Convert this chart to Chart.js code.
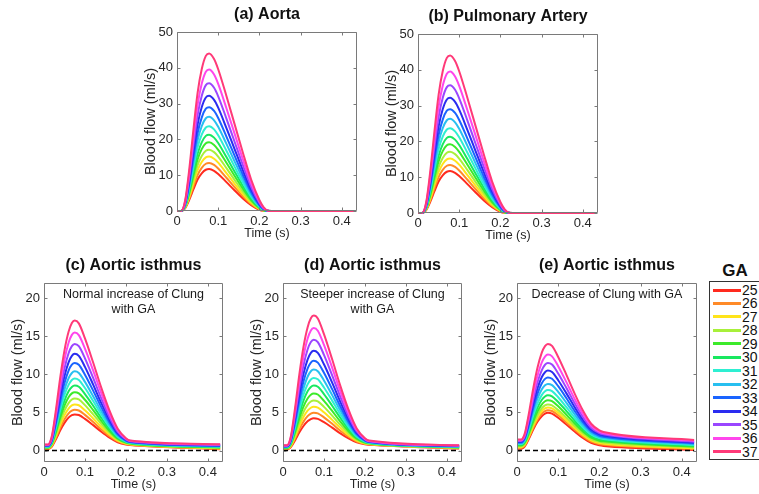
<!DOCTYPE html>
<html>
<head>
<meta charset="utf-8">
<script src="https://cdn.jsdelivr.net/npm/chart.js@4.4.1/dist/chart.umd.min.js"></script>
<style>
  html, body { margin: 0; padding: 0; background: #fff; }
  body { width: 759px; height: 494px; position: relative; overflow: hidden;
         font-family: "Liberation Sans", Arial, Helvetica, sans-serif; color: #262626; }
  canvas { position: absolute; }
  #gaTitle { position: absolute; left: 712px; top: 261px; width: 46px; line-height: 20px;
             text-align: center; font-weight: bold; font-size: 17px; color: #111; }
  #legend { position: absolute; left: 709px; top: 281px; width: 70px; height: 179px;
            border: 1px solid #333; box-sizing: border-box; }
  #legend .row { position: absolute; left: 0; height: 14px; width: 60px; }
  #legend .swatch { position: absolute; left: 3px; top: 5.5px; width: 28px; height: 3px; }
  #legend .lab { position: absolute; left: 32px; top: 0; line-height: 14px; font-size: 14px; color: #111; }
</style>
</head>
<body>
<div id="gaTitle">GA</div>
<div id="legend"></div>
<script>
// gestational age groups and their trace colours
const gaLabels = ['25', '26', '27', '28', '29', '30', '31', '32', '33', '34', '35', '36', '37'];
const gaColors = ['#ff2a1e', '#ff8a28', '#ffe41a', '#a8f03a', '#3cea2a', '#18e860', '#2eefd2',
                  '#28bff0', '#1a64ff', '#2a2cf0', '#9a46ff', '#ff46ec', '#ff3a78'];

const timeTicks = [0, 0.1, 0.2, 0.3, 0.4];
const aortaTicks = [0, 10, 20, 30, 40, 50];
const isthmusTicks = [0, 5, 10, 15, 20];

// sample times (s)
const aortaTime = [0, 0.01, 0.02, 0.03, 0.04, 0.05, 0.06, 0.07, 0.078, 0.09, 0.10, 0.12, 0.14,
                   0.16, 0.18, 0.20, 0.21, 0.22, 0.23, 0.30, 0.43];
const isthmusTime = [0, 0.01, 0.015, 0.02, 0.03, 0.04, 0.05, 0.06, 0.068, 0.075, 0.085, 0.10,
                     0.12, 0.14, 0.16, 0.18, 0.20, 0.21, 0.43];

// aortic flow (ml/s), one row per GA 25..37
const aortaFlow = [
  [0, 0, 0.82, 3.16, 6.08, 8.78, 10.53, 11.52, 11.7, 11.23, 10.35, 8.07, 5.73, 3.51, 1.64, 0.35, 0.06, 0, 0, 0, 0],
  [0, 0, 0.94, 3.62, 6.97, 10.05, 12.06, 13.2, 13.4, 12.87, 11.87, 9.29, 6.63, 4.10, 1.94, 0.44, 0.09, 0, 0, 0, 0],
  [0, 0, 1.06, 4.10, 7.90, 11.4, 13.68, 14.97, 15.2, 14.60, 13.49, 10.59, 7.60, 4.74, 2.28, 0.56, 0.13, 0.01, 0, 0, 0],
  [0, 0, 1.20, 4.62, 8.89, 12.83, 15.39, 16.84, 17.1, 16.44, 15.20, 11.97, 8.64, 5.43, 2.65, 0.68, 0.17, 0.01, 0, 0, 0],
  [0, 0, 1.34, 5.18, 9.98, 14.4, 17.28, 18.91, 19.2, 18.46, 17.09, 13.50, 9.79, 6.21, 3.07, 0.83, 0.22, 0.02, 0, 0, 0],
  [0, 0, 1.49, 5.75, 11.08, 15.98, 19.17, 20.98, 21.3, 20.49, 18.98, 15.05, 10.97, 7.01, 3.51, 0.99, 0.28, 0.03, 0, 0, 0],
  [0, 0, 1.66, 6.40, 12.32, 17.78, 21.33, 23.34, 23.7, 22.81, 21.15, 16.83, 12.32, 7.94, 4.03, 1.19, 0.36, 0.04, 0, 0, 0],
  [0, 0, 1.84, 7.10, 13.68, 19.73, 23.67, 25.91, 26.3, 25.32, 23.51, 18.76, 13.81, 8.96, 4.60, 1.40, 0.44, 0.05, 0, 0, 0],
  [0, 0, 2.03, 7.83, 15.08, 21.75, 26.1, 28.57, 29.0, 27.94, 25.96, 20.78, 15.37, 10.05, 5.22, 1.64, 0.53, 0.06, 0, 0, 0],
  [0, 0, 2.25, 8.69, 16.74, 24.15, 28.98, 31.72, 32.2, 31.03, 28.86, 23.18, 17.23, 11.35, 5.96, 1.93, 0.64, 0.07, 0, 0, 0],
  [0, 0, 2.50, 9.64, 18.56, 26.78, 32.13, 35.16, 35.7, 34.42, 32.04, 25.82, 19.28, 12.79, 6.78, 2.26, 0.77, 0.09, 0, 0, 0],
  [0, 0, 2.77, 10.67, 20.54, 29.63, 35.55, 38.91, 39.5, 38.10, 35.50, 28.70, 21.53, 14.39, 7.70, 2.63, 0.92, 0.11, 0, 0, 0],
  [0, 0, 3.08, 11.88, 22.88, 33.0, 39.6, 43.34, 44.0, 42.46, 39.6, 32.12, 24.2, 16.28, 8.8, 3.08, 1.1, 0.13, 0, 0, 0]
];

// pulmonary artery flow has the same waveforms
const paFlow = aortaFlow;

// isthmus flow, normal increase of Clung with GA
const isthmusNormal = [
  [0.2, 0.2, 0.30, 0.58, 1.57, 2.69, 3.63, 4.32, 4.64, 4.75, 4.67, 4.16, 3.34, 2.47, 1.69, 1.09, 0.79, 0.73, 0.17],
  [0.25, 0.25, 0.36, 0.67, 1.78, 3.05, 4.11, 4.88, 5.24, 5.36, 5.26, 4.69, 3.75, 2.77, 1.88, 1.20, 0.85, 0.78, 0.23],
  [0.3, 0.3, 0.43, 0.77, 2.03, 3.45, 4.65, 5.52, 5.93, 6.06, 5.95, 5.29, 4.22, 3.10, 2.10, 1.31, 0.92, 0.83, 0.28],
  [0.35, 0.35, 0.49, 0.88, 2.30, 3.91, 5.26, 6.23, 6.70, 6.84, 6.71, 5.96, 4.75, 3.48, 2.33, 1.43, 0.98, 0.88, 0.34],
  [0.4, 0.4, 0.56, 1.00, 2.58, 4.38, 5.90, 6.99, 7.51, 7.67, 7.52, 6.67, 5.31, 3.87, 2.57, 1.56, 1.05, 0.93, 0.39],
  [0.45, 0.45, 0.62, 1.11, 2.88, 4.89, 6.57, 7.79, 8.36, 8.54, 8.37, 7.42, 5.89, 4.28, 2.83, 1.69, 1.11, 0.98, 0.45],
  [0.5, 0.5, 0.69, 1.23, 3.19, 5.41, 7.29, 8.63, 9.27, 9.46, 9.27, 8.21, 6.50, 4.71, 3.10, 1.83, 1.18, 1.03, 0.51],
  [0.55, 0.55, 0.76, 1.35, 3.51, 5.95, 8.01, 9.49, 10.19, 10.4, 10.19, 9.02, 7.13, 5.15, 3.37, 1.97, 1.25, 1.08, 0.56],
  [0.6, 0.6, 0.83, 1.49, 3.87, 6.58, 8.86, 10.50, 11.27, 11.5, 11.26, 9.96, 7.87, 5.67, 3.68, 2.12, 1.32, 1.13, 0.62],
  [0.65, 0.65, 0.90, 1.63, 4.27, 7.26, 9.78, 11.59, 12.44, 12.7, 12.43, 10.99, 8.66, 6.22, 4.02, 2.29, 1.39, 1.18, 0.67],
  [0.7, 0.7, 0.98, 1.78, 4.69, 8.00, 10.78, 12.78, 13.72, 14.0, 13.70, 12.10, 9.53, 6.82, 4.38, 2.46, 1.47, 1.23, 0.73],
  [0.75, 0.75, 1.06, 1.94, 5.18, 8.85, 11.94, 14.15, 15.19, 15.5, 15.16, 13.38, 10.52, 7.51, 4.79, 2.66, 1.55, 1.28, 0.79],
  [0.8, 0.8, 1.14, 2.12, 5.69, 9.74, 13.15, 15.59, 16.74, 17.08, 16.70, 14.73, 11.56, 8.23, 5.23, 2.86, 1.63, 1.33, 0.84]
];

// isthmus flow, steeper increase of Clung with GA
const isthmusSteep = [
  [0.17, 0.17, 0.26, 0.51, 1.39, 2.39, 3.23, 3.84, 4.13, 4.23, 4.16, 3.73, 3.01, 2.26, 1.59, 1.07, 0.82, 0.77, 0.26],
  [0.22, 0.22, 0.33, 0.61, 1.65, 2.82, 3.80, 4.52, 4.86, 4.97, 4.89, 4.36, 3.51, 2.61, 1.81, 1.19, 0.88, 0.82, 0.30],
  [0.26, 0.26, 0.38, 0.71, 1.91, 3.26, 4.40, 5.23, 5.62, 5.75, 5.65, 5.03, 4.03, 2.98, 2.03, 1.30, 0.94, 0.86, 0.33],
  [0.31, 0.31, 0.45, 0.83, 2.19, 3.74, 5.05, 5.99, 6.44, 6.58, 6.46, 5.74, 4.59, 3.37, 2.28, 1.43, 1.00, 0.91, 0.37],
  [0.35, 0.35, 0.50, 0.94, 2.50, 4.27, 5.76, 6.83, 7.34, 7.5, 7.36, 6.53, 5.20, 3.80, 2.54, 1.56, 1.06, 0.95, 0.41],
  [0.40, 0.40, 0.57, 1.07, 2.84, 4.86, 6.56, 7.78, 8.36, 8.54, 8.37, 7.42, 5.89, 4.29, 2.84, 1.71, 1.13, 1.00, 0.45],
  [0.44, 0.44, 0.63, 1.18, 3.17, 5.43, 7.33, 8.69, 9.34, 9.54, 9.35, 8.28, 6.56, 4.75, 3.12, 1.84, 1.19, 1.04, 0.48],
  [0.49, 0.49, 0.70, 1.32, 3.53, 6.05, 8.17, 9.69, 10.41, 10.63, 10.41, 9.21, 7.28, 5.26, 3.43, 2.00, 1.26, 1.09, 0.52],
  [0.53, 0.53, 0.77, 1.45, 3.91, 6.71, 9.07, 10.76, 11.56, 11.8, 11.55, 10.21, 8.06, 5.79, 3.75, 2.15, 1.32, 1.13, 0.56],
  [0.58, 0.58, 0.84, 1.60, 4.34, 7.45, 10.07, 11.95, 12.83, 13.1, 12.82, 11.33, 8.92, 6.39, 4.11, 2.32, 1.40, 1.18, 0.59],
  [0.62, 0.62, 0.91, 1.75, 4.80, 8.26, 11.18, 13.27, 14.25, 14.55, 14.24, 12.57, 9.88, 7.05, 4.50, 2.50, 1.47, 1.22, 0.63],
  [0.67, 0.67, 0.99, 1.92, 5.30, 9.13, 12.35, 14.67, 15.76, 16.08, 15.73, 13.87, 10.89, 7.76, 4.92, 2.70, 1.54, 1.27, 0.67],
  [0.71, 0.71, 1.06, 2.09, 5.82, 10.05, 13.62, 16.17, 17.37, 17.73, 17.34, 15.28, 11.98, 8.50, 5.37, 2.90, 1.62, 1.31, 0.70]
];

// isthmus flow, Clung decreasing with GA
const isthmusDecrease = [
  [0.25, 0.25, 0.35, 0.64, 1.66, 2.83, 3.81, 4.51, 4.85, 4.95, 4.85, 4.31, 3.42, 2.50, 1.66, 1.01, 0.68, 0.60, 0.08],
  [0.35, 0.35, 0.46, 0.76, 1.84, 3.06, 4.09, 4.84, 5.19, 5.3, 5.20, 4.63, 3.70, 2.73, 1.86, 1.17, 0.83, 0.75, 0.19],
  [0.45, 0.45, 0.56, 0.88, 2.01, 3.30, 4.38, 5.16, 5.53, 5.65, 5.55, 4.95, 3.99, 2.97, 2.06, 1.35, 0.99, 0.91, 0.30],
  [0.55, 0.55, 0.67, 1.00, 2.20, 3.56, 4.71, 5.53, 5.93, 6.05, 5.94, 5.31, 4.30, 3.23, 2.27, 1.52, 1.14, 1.06, 0.41],
  [0.65, 0.65, 0.78, 1.14, 2.44, 3.91, 5.15, 6.04, 6.47, 6.6, 6.48, 5.81, 4.71, 3.55, 2.51, 1.70, 1.30, 1.21, 0.52],
  [0.75, 0.75, 0.89, 1.29, 2.70, 4.31, 5.66, 6.64, 7.10, 7.25, 7.12, 6.38, 5.19, 3.92, 2.79, 1.91, 1.47, 1.37, 0.63],
  [0.85, 0.85, 1.01, 1.44, 2.98, 4.74, 6.21, 7.28, 7.79, 7.95, 7.81, 7.00, 5.69, 4.31, 3.07, 2.11, 1.63, 1.52, 0.73],
  [0.95, 0.95, 1.12, 1.59, 3.29, 5.22, 6.84, 8.02, 8.57, 8.75, 8.60, 7.71, 6.26, 4.75, 3.38, 2.32, 1.79, 1.67, 0.84],
  [1.05, 1.05, 1.24, 1.75, 3.62, 5.73, 7.51, 8.80, 9.41, 9.6, 9.43, 8.45, 6.87, 5.20, 3.70, 2.54, 1.95, 1.82, 0.95],
  [1.15, 1.15, 1.35, 1.92, 3.96, 6.27, 8.22, 9.62, 10.29, 10.5, 10.31, 9.24, 7.51, 5.69, 4.04, 2.76, 2.12, 1.98, 1.06],
  [1.25, 1.25, 1.47, 2.09, 4.33, 6.86, 9.00, 10.54, 11.27, 11.5, 11.30, 10.12, 8.21, 6.21, 4.40, 2.99, 2.29, 2.13, 1.17],
  [1.35, 1.35, 1.59, 2.27, 4.73, 7.51, 9.86, 11.55, 12.35, 12.6, 12.37, 11.08, 8.98, 6.77, 4.79, 3.24, 2.45, 2.28, 1.28],
  [1.45, 1.45, 1.72, 2.48, 5.22, 8.32, 10.94, 12.83, 13.72, 14.0, 13.74, 12.29, 9.94, 7.47, 5.25, 3.52, 2.64, 2.44, 1.39]
];

// zero reference drawn dashed in the isthmus panels
const zeroLineTime = [0, 0.43];
const zeroLineFlow = [0, 0];

Chart.defaults.font.family = '"Liberation Sans", Arial, Helvetica, sans-serif';
Chart.defaults.color = '#262626';

// axes box with inward ticks, plus panel title and note text
const boxPlugin = {
  id: 'matlabBox',
  afterDraw(chart, args, opts) {
    const { ctx, chartArea: a, scales } = chart;
    const L = Math.round(a.left) + 0.5, R = Math.round(a.right) - 0.5;
    const T = Math.round(a.top) + 0.5, B = Math.round(a.bottom) - 0.5;
    ctx.save();
    ctx.strokeStyle = '#7a7a7a';
    ctx.lineWidth = 1;
    ctx.beginPath();
    ctx.rect(L, T, R - L, B - T);
    scales.x.ticks.forEach(t => {
      const px = Math.round(scales.x.getPixelForValue(t.value)) + 0.5;
      ctx.moveTo(px, B); ctx.lineTo(px, B - 3);
      ctx.moveTo(px, T); ctx.lineTo(px, T + 3);
    });
    scales.y.ticks.forEach(t => {
      const py = Math.round(scales.y.getPixelForValue(t.value)) + 0.5;
      ctx.moveTo(L, py); ctx.lineTo(L + 3, py);
      ctx.moveTo(R, py); ctx.lineTo(R - 3, py);
    });
    ctx.stroke();

    const cx = (a.left + a.right) / 2;
    ctx.textAlign = 'center';
    ctx.textBaseline = 'middle';
    ctx.fillStyle = '#111';
    ctx.font = 'bold 16px "Liberation Sans", Arial, sans-serif';
    ctx.fillText(opts.title, cx, a.top - 17);
    if (opts.note) {
      ctx.fillStyle = '#1a1a1a';
      ctx.font = '12.5px "Liberation Sans", Arial, sans-serif';
      opts.note.forEach((line, i) => ctx.fillText(line, cx, a.top + 11.5 + i * 15.5));
    }
    ctx.restore();
  }
};

function flowDatasets(time, flows) {
  return flows.map((row, i) => ({
    label: gaLabels[i],
    data: row.map((v, j) => ({ x: time[j], y: v })),
    borderColor: gaColors[i],
    borderWidth: 2,
    pointRadius: 0,
    cubicInterpolationMode: 'monotone',
    order: flows.length - i,
    clip: 3
  }));
}

const panels = [
  { title: '(a) Aorta', box: [177, 32, 357, 211], time: aortaTime, flows: aortaFlow,
    yMin: 0, yMax: 50, yTicks: aortaTicks },
  { title: '(b) Pulmonary Artery', box: [418, 34, 598, 213], time: aortaTime, flows: paFlow,
    yMin: 0, yMax: 50, yTicks: aortaTicks },
  { title: '(c) Aortic isthmus', box: [44, 283, 223, 462], time: isthmusTime, flows: isthmusNormal,
    yMin: -1.5, yMax: 22, yTicks: isthmusTicks, note: ['Normal increase of Clung', 'with GA'] },
  { title: '(d) Aortic isthmus', box: [283, 283, 462, 462], time: isthmusTime, flows: isthmusSteep,
    yMin: -1.5, yMax: 22, yTicks: isthmusTicks, note: ['Steeper increase of Clung', 'with GA'] },
  { title: '(e) Aortic isthmus', box: [517, 283, 697, 462], time: isthmusTime, flows: isthmusDecrease,
    yMin: -1.5, yMax: 22, yTicks: isthmusTicks, note: ['Decrease of Clung with GA'] }
];

const Y_AXIS_W = 44, X_AXIS_H = 40, TOP_PAD = 32, RIGHT_PAD = 6;

panels.forEach(p => {
  const [left, top, right, bottom] = p.box;
  const canvas = document.createElement('canvas');
  canvas.width = Y_AXIS_W + (right - left) + RIGHT_PAD;
  canvas.height = TOP_PAD + (bottom - top) + X_AXIS_H;
  canvas.style.left = (left - Y_AXIS_W) + 'px';
  canvas.style.top = (top - TOP_PAD) + 'px';
  document.body.appendChild(canvas);

  const datasets = flowDatasets(p.time, p.flows);
  if (p.note) {
    datasets.push({
      label: 'zero',
      data: zeroLineTime.map((t, j) => ({ x: t, y: zeroLineFlow[j] })),
      borderColor: '#000',
      borderWidth: 1.5,
      borderDash: [5, 3],
      pointRadius: 0,
      order: 0
    });
  }

  new Chart(canvas, {
    type: 'line',
    data: { datasets },
    plugins: [boxPlugin],
    options: {
      responsive: false,
      animation: false,
      events: [],
      devicePixelRatio: 1,
      layout: { padding: { top: TOP_PAD, right: RIGHT_PAD, bottom: 0, left: 0 } },
      plugins: {
        legend: { display: false },
        tooltip: { enabled: false },
        matlabBox: { title: p.title, note: p.note }
      },
      scales: {
        x: {
          type: 'linear', min: 0, max: 0.437,
          grid: { display: false, drawTicks: false },
          border: { display: false },
          ticks: { padding: 3, autoSkip: false, maxRotation: 0, font: { size: 13 },
                   callback: v => String(v) },
          afterBuildTicks: s => { s.ticks = timeTicks.map(v => ({ value: v })); },
          afterFit: s => { s.height = X_AXIS_H; },
          title: { display: true, text: 'Time (s)', font: { size: 12.5 }, padding: { top: 0, bottom: 10 } }
        },
        y: {
          type: 'linear', min: p.yMin, max: p.yMax,
          grid: { display: false, drawTicks: false },
          border: { display: false },
          ticks: { padding: 4, autoSkip: false, font: { size: 13 }, callback: v => String(v) },
          afterBuildTicks: s => { s.ticks = p.yTicks.map(v => ({ value: v })); },
          afterFit: s => { s.width = Y_AXIS_W; },
          title: { display: true, text: 'Blood flow (ml/s)', font: { size: 14.5 }, padding: { top: 9, bottom: 0 } }
        }
      }
    }
  });
});

// GA legend
const legend = document.getElementById('legend');
gaLabels.forEach((ga, i) => {
  const row = document.createElement('div');
  row.className = 'row';
  row.style.top = (8 + 13.47 * i - 7) + 'px';
  row.innerHTML = '<span class="swatch" style="background:' + gaColors[i] + '"></span><span class="lab">' + ga + '</span>';
  legend.appendChild(row);
});
</script>
</body>
</html>
